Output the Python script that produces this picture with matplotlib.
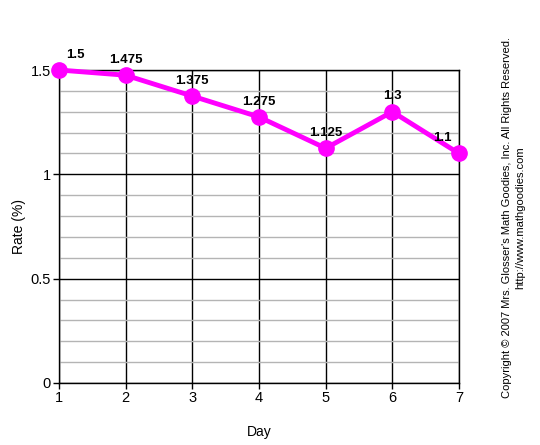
import matplotlib
matplotlib.use("Agg")
import matplotlib.pyplot as plt
from matplotlib.ticker import MultipleLocator

plt.rcParams['font.family'] = ['Liberation Sans', 'DejaVu Sans']

days = [1, 2, 3, 4, 5, 6, 7]
rates = [1.5, 1.475, 1.375, 1.275, 1.125, 1.3, 1.1]
point_labels = ["1.5", "1.475", "1.375", "1.275", "1.125", "1.3", "1.1"]
label_dx = [12, 0, 0, 0, 0, 0, -12]  # nudges in points
y_ticks = [0, 0.5, 1, 1.5]
y_tick_labels = ["0", "0.5", "1", "1.5"]

fig = plt.figure(figsize=(5.4, 4.45), dpi=100)
ax = fig.add_axes([59 / 540, 1 - 383 / 445, 400 / 540, 313 / 445])

ax.set_xlim(1, 7)
ax.set_ylim(0, 1.5)
ax.set_xticks(days)
ax.set_yticks(y_ticks)
ax.set_yticklabels(y_tick_labels)
ax.yaxis.set_minor_locator(MultipleLocator(0.1))

ax.grid(which='minor', axis='y', color='#b4b4b4', linewidth=1)
ax.grid(which='major', axis='both', color='black', linewidth=1)
ax.set_axisbelow(True)
ax.tick_params(which='minor', length=0)
ax.tick_params(which='major', length=4, width=1, color='black', labelsize=10.5, pad=2)
for s in ax.spines.values():
    s.set_linewidth(1)

ax.plot(days, rates, color='#ff00ff', linewidth=3.5, marker='o',
        markersize=11, clip_on=False, zorder=5)

for x, y, lab, dx in zip(days, rates, point_labels, label_dx):
    ax.annotate(lab, (x, y), xytext=(dx, 11), textcoords='offset points',
                ha='center', va='center', fontsize=9.5, fontweight='bold',
                annotation_clip=False, zorder=6)

ax.set_xlabel("Day", fontsize=10, labelpad=14)
ax.set_ylabel("Rate (%)", fontsize=10)
ax.yaxis.set_label_coords(-33 / 400, 0.5)

fig.text(507 / 540, 1 - 218 / 445,
         "Copyright \u00a9 2007 Mrs. Glosser's Math Goodies, Inc. All Rights Reserved.",
         rotation=90, ha='center', va='center', fontsize=8)
fig.text(520 / 540, 1 - 218 / 445, "http://www.mathgoodies.com",
         rotation=90, ha='center', va='center', fontsize=8)

fig.savefig("out.png", dpi=100)
